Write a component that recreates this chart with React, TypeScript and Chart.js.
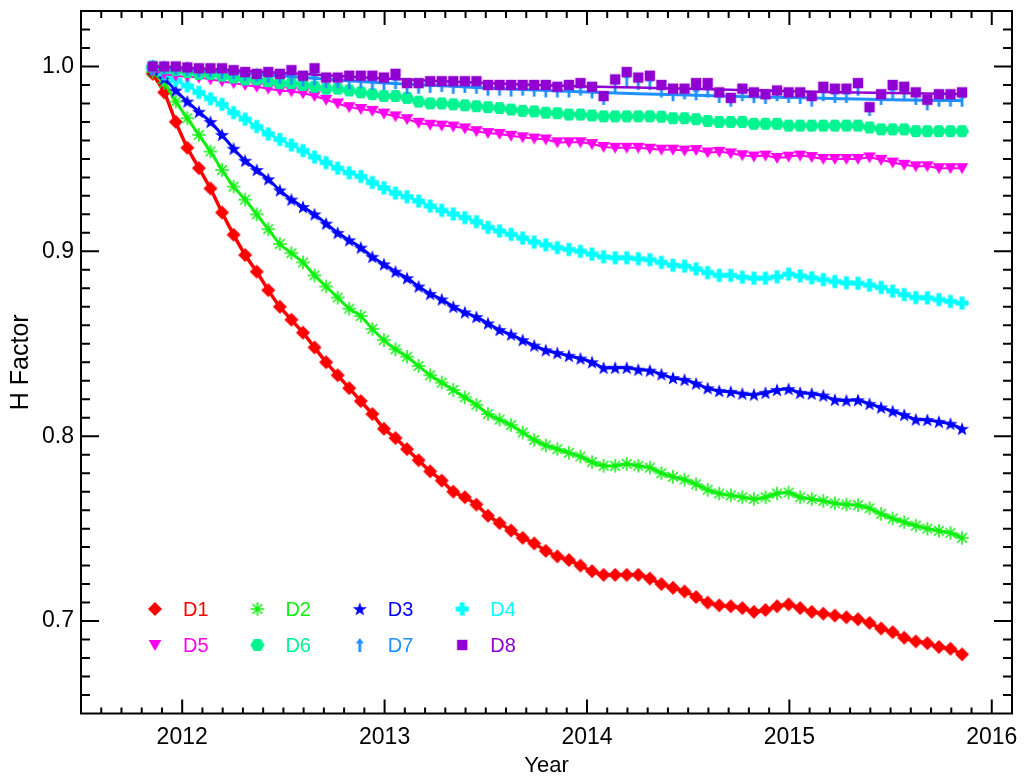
import React, { useEffect, useRef } from 'react';
import { Chart, registerables } from 'chart.js';

Chart.register(...registerables);

// ---------- data ----------
const START_YEAR = 2011.854;
const STEP_YEAR = 0.05713;

const D1 = [
  0.996, 0.986, 0.970, 0.956, 0.945, 0.934, 0.921, 0.909, 0.898, 0.889,
  0.879, 0.870, 0.863, 0.856, 0.848, 0.840, 0.833, 0.826, 0.819, 0.812,
  0.804, 0.799, 0.793, 0.787, 0.781, 0.776, 0.770, 0.767, 0.763, 0.757,
  0.753, 0.749, 0.745, 0.742, 0.738, 0.735, 0.733, 0.730, 0.727, 0.725,
  0.725, 0.725, 0.725, 0.723, 0.720, 0.718, 0.716, 0.713, 0.710, 0.7085,
  0.708, 0.707, 0.705, 0.706, 0.708, 0.709, 0.707, 0.705, 0.704, 0.703,
  0.702, 0.701, 0.699, 0.696, 0.694, 0.691, 0.689, 0.688, 0.686, 0.685,
  0.682,
];
const D2 = [
  0.997, 0.991, 0.981, 0.972, 0.963, 0.954, 0.944, 0.935, 0.928, 0.920,
  0.912, 0.904, 0.899, 0.894, 0.887, 0.881, 0.875, 0.869, 0.865, 0.858,
  0.852, 0.847, 0.843, 0.838, 0.833, 0.829, 0.825, 0.821, 0.817, 0.812,
  0.809, 0.806, 0.802, 0.798, 0.795, 0.793, 0.791, 0.789, 0.786, 0.784,
  0.784, 0.785, 0.784, 0.783, 0.780, 0.778, 0.7765, 0.774, 0.771, 0.769,
  0.768, 0.767, 0.766, 0.767, 0.769, 0.7695, 0.767, 0.766, 0.765, 0.7637,
  0.763, 0.7627, 0.761, 0.758, 0.7555, 0.7535, 0.7516, 0.750, 0.7488, 0.7477,
  0.745,
];
const D3 = [
  0.998, 0.9935, 0.987, 0.981, 0.9755, 0.970, 0.963, 0.9555, 0.949, 0.944,
  0.939, 0.933, 0.928, 0.924, 0.920, 0.915, 0.910, 0.906, 0.902, 0.897,
  0.893, 0.889, 0.8855, 0.881, 0.877, 0.874, 0.870, 0.867, 0.8645, 0.861,
  0.8575, 0.855, 0.852, 0.849, 0.8465, 0.845, 0.8435, 0.842, 0.840, 0.837,
  0.837, 0.837, 0.836, 0.8355, 0.8335, 0.8315, 0.8305, 0.8285, 0.826, 0.8245,
  0.824, 0.823, 0.8225, 0.8235, 0.825, 0.8255, 0.8235, 0.823, 0.822, 0.8197,
  0.8193, 0.8195, 0.8175, 0.8155, 0.8135, 0.8115, 0.809, 0.8088, 0.8078, 0.8067,
  0.804,
];
const D4 = [
  0.999, 0.996, 0.9925, 0.9895, 0.986, 0.9825, 0.9795, 0.975, 0.9715, 0.9675,
  0.9635, 0.9605, 0.9575, 0.9545, 0.951, 0.948, 0.945, 0.9425, 0.9405, 0.9372,
  0.9343, 0.9315, 0.9295, 0.9272, 0.9245, 0.9222, 0.9202, 0.9182, 0.916, 0.913,
  0.911, 0.9092, 0.9072, 0.905, 0.9035, 0.902, 0.901, 0.900, 0.8985, 0.897,
  0.8965, 0.8965, 0.896, 0.8955, 0.894, 0.8925, 0.892, 0.8905, 0.8885, 0.887,
  0.887, 0.886, 0.8855, 0.8855, 0.8862, 0.8877, 0.8867, 0.8857, 0.8847, 0.8837,
  0.883, 0.8827, 0.8817, 0.8805, 0.8785, 0.8766, 0.875, 0.8748, 0.8739, 0.8729,
  0.872,
];
const D5 = [
  0.998, 0.996, 0.995, 0.9945, 0.994, 0.993, 0.992, 0.991, 0.990, 0.989,
  0.988, 0.987, 0.9865, 0.9855, 0.984, 0.982, 0.980, 0.978, 0.977, 0.976,
  0.9745, 0.973, 0.9715, 0.9695, 0.9685, 0.968, 0.9675, 0.9665, 0.965, 0.964,
  0.9635, 0.9625, 0.9617, 0.961, 0.9605, 0.959, 0.959, 0.959, 0.958, 0.9565,
  0.956, 0.956, 0.956, 0.9555, 0.955, 0.955, 0.9545, 0.9548, 0.9535, 0.9538,
  0.953, 0.952, 0.9513, 0.9518, 0.9505, 0.9512, 0.9518, 0.951, 0.950, 0.950,
  0.950, 0.950, 0.9508, 0.9495, 0.948, 0.9468, 0.946, 0.946, 0.945, 0.945,
  0.945,
];
const D6 = [
  1.000, 0.999, 0.998, 0.997, 0.996, 0.996, 0.995, 0.994, 0.993, 0.993,
  0.992, 0.991, 0.991, 0.990, 0.989, 0.988, 0.988, 0.987, 0.986, 0.985,
  0.984, 0.984, 0.983, 0.981, 0.980, 0.980, 0.9795, 0.979, 0.9785, 0.978,
  0.9775, 0.9767, 0.976, 0.9757, 0.975, 0.9747, 0.974, 0.974, 0.9735, 0.973,
  0.973, 0.973, 0.973, 0.973, 0.9728, 0.972, 0.972, 0.9715, 0.9705, 0.970,
  0.970, 0.970, 0.969, 0.969, 0.969, 0.968, 0.968, 0.968, 0.968, 0.968,
  0.968, 0.968, 0.967, 0.966, 0.966, 0.966, 0.965, 0.965, 0.965, 0.965,
  0.965,
];
const D7 = [
  1.000, 0.9995, 0.999, 0.999, 0.998, 0.998, 0.997, 0.997, 0.996, 0.9955,
  0.995, 0.9945, 0.994, 0.993, 0.9935, 0.992, 0.992, 0.9915, 0.992, 0.9912,
  0.991, 0.9915, 0.989, 0.989, 0.9895, 0.990, 0.989, 0.9895, 0.989, 0.988,
  0.988, 0.9875, 0.988, 0.9875, 0.987, 0.987, 0.987, 0.988, 0.9865, 0.983,
  0.990, 0.993, 0.991, 0.991, 0.987, 0.985, 0.986, 0.9855, 0.987, 0.984,
  0.982, 0.985, 0.984, 0.9835, 0.985, 0.984, 0.9835, 0.982, 0.985, 0.984,
  0.984, 0.988, 0.977, 0.983, 0.986, 0.985, 0.983, 0.980, 0.982, 0.982,
  0.982,
];
const D8 = [
  1.000, 1.000, 1.000, 0.9995, 0.999, 0.999, 0.999, 0.998, 0.997, 0.996,
  0.997, 0.996, 0.998, 0.995, 0.999, 0.994, 0.994, 0.995, 0.995, 0.995,
  0.994, 0.996, 0.991, 0.991, 0.992, 0.992, 0.992, 0.992, 0.992, 0.990,
  0.990, 0.990, 0.990, 0.990, 0.990, 0.989, 0.990, 0.991, 0.989, 0.984,
  0.993, 0.997, 0.994, 0.995, 0.990, 0.988, 0.988, 0.991, 0.991, 0.986,
  0.983, 0.988, 0.986, 0.985, 0.987, 0.986, 0.986, 0.984, 0.989, 0.988,
  0.988, 0.991, 0.978, 0.985, 0.990, 0.989, 0.986, 0.982, 0.985, 0.985,
  0.986,
];

// smooth trend lines drawn through D7 and D8
const FIT_YEARS = [
  2011.854, 2012.0, 2012.25, 2012.5, 2012.75, 2013.0, 2013.25, 2013.5, 2013.75,
  2014.0, 2014.25, 2014.5, 2014.75, 2015.0, 2015.25, 2015.5, 2015.75, 2015.853,
];
const D7_FIT = [
  1.000, 0.9988, 0.9968, 0.9948, 0.9928, 0.991, 0.9897, 0.9884, 0.9872,
  0.9862, 0.9853, 0.9845, 0.9838, 0.9832, 0.9826, 0.982, 0.9816, 0.9815,
];
const D8_FIT = [
  1.000, 0.9994, 0.998, 0.9965, 0.995, 0.9935, 0.9922, 0.991, 0.990,
  0.9892, 0.9886, 0.988, 0.9873, 0.9866, 0.986, 0.9856, 0.9853, 0.985,
];

const X_TICKS = [2012, 2013, 2014, 2015, 2016];
const Y_TICKS = [0.7, 0.8, 0.9, 1.0];
const X_LABEL = 'Year';
const Y_LABEL = 'H Factor';

// ---------- styles ----------
const FONT = '"Liberation Sans", Arial, Helvetica, sans-serif';

type SeriesStyle = { label: string; data: number[]; color: string; marker: string; line: number };
const SERIES: SeriesStyle[] = [
  { label: 'D1', data: D1, color: '#ff0000', marker: 'diamond', line: 3.5 },
  { label: 'D2', data: D2, color: '#10f010', marker: 'asterisk', line: 3 },
  { label: 'D3', data: D3, color: '#0000ff', marker: 'star', line: 3 },
  { label: 'D4', data: D4, color: '#00ffff', marker: 'plus', line: 2.5 },
  { label: 'D5', data: D5, color: '#ff00ee', marker: 'triDown', line: 2 },
  { label: 'D6', data: D6, color: '#00f590', marker: 'hexagon', line: 2.5 },
  { label: 'D7', data: D7, color: '#1e90ff', marker: 'arrow', line: 0 },
  { label: 'D8', data: D8, color: '#9000d0', marker: 'square', line: 0 },
];

function makeMarker(kind: string, color: string): HTMLCanvasElement {
  const s = 20;
  const c = 10;
  const cv = document.createElement('canvas');
  cv.width = s;
  cv.height = s;
  const g = cv.getContext('2d') as CanvasRenderingContext2D;
  g.fillStyle = color;
  g.strokeStyle = color;
  g.beginPath();
  if (kind === 'diamond') {
    g.moveTo(c, c - 7);
    g.lineTo(c + 7, c);
    g.lineTo(c, c + 7);
    g.lineTo(c - 7, c);
    g.closePath();
    g.fill();
  } else if (kind === 'asterisk') {
    g.lineWidth = 1.6;
    for (let k = 0; k < 4; k++) {
      const a = (k * Math.PI) / 4;
      g.moveTo(c - 6.8 * Math.cos(a), c - 6.8 * Math.sin(a));
      g.lineTo(c + 6.8 * Math.cos(a), c + 6.8 * Math.sin(a));
    }
    g.stroke();
  } else if (kind === 'star') {
    for (let k = 0; k < 10; k++) {
      const r = k % 2 === 0 ? 7.4 : 3.0;
      const a = -Math.PI / 2 + (k * Math.PI) / 5;
      const px = c + r * Math.cos(a);
      const py = c + 0.6 + r * Math.sin(a);
      if (k === 0) g.moveTo(px, py);
      else g.lineTo(px, py);
    }
    g.closePath();
    g.fill();
  } else if (kind === 'plus') {
    g.fillRect(c - 6.5, c - 2.5, 13, 5);
    g.fillRect(c - 2.5, c - 6.5, 5, 13);
  } else if (kind === 'triDown') {
    g.moveTo(c - 6.3, c - 5);
    g.lineTo(c + 6.3, c - 5);
    g.lineTo(c, c + 6);
    g.closePath();
    g.fill();
  } else if (kind === 'hexagon') {
    for (let k = 0; k < 6; k++) {
      const a = (k * Math.PI) / 3;
      const px = c + 7 * Math.cos(a);
      const py = c + 7 * Math.sin(a);
      if (k === 0) g.moveTo(px, py);
      else g.lineTo(px, py);
    }
    g.closePath();
    g.fill();
  } else if (kind === 'arrow') {
    g.moveTo(c, c - 7);
    g.lineTo(c + 4, c - 1.5);
    g.lineTo(c - 4, c - 1.5);
    g.closePath();
    g.fill();
    g.fillRect(c - 1.4, c - 2, 2.8, 9);
  } else if (kind === 'square') {
    g.fillRect(c - 5.2, c - 5.2, 10.4, 10.4);
  }
  return cv;
}

export default function App() {
  const ref = useRef<HTMLCanvasElement | null>(null);

  useEffect(() => {
    const canvas = ref.current;
    if (!canvas) return;
    const markers = SERIES.map((s) => makeMarker(s.marker, s.color));
    const xs = D1.map((_, i) => START_YEAR + i * STEP_YEAR);

    const datasets: any[] = [];
    SERIES.forEach((s, i) => {
      datasets.push({
        label: s.label,
        data: s.data.map((v, k) => ({ x: xs[k], y: v })),
        borderColor: s.color,
        backgroundColor: s.color,
        borderWidth: s.line,
        showLine: s.line > 0,
        tension: 0.25,
        fill: false,
        pointStyle: markers[i],
        pointRadius: 6,
        pointHoverRadius: 6,
      });
      if (s.label === 'D7') {
        datasets.push({
          label: 'D7 trend',
          data: FIT_YEARS.map((x, k) => ({ x, y: D7_FIT[k] })),
          borderColor: s.color,
          borderWidth: 3,
          showLine: true,
          cubicInterpolationMode: 'monotone',
          pointRadius: 0,
          fill: false,
        });
      }
      if (s.label === 'D8') {
        const marks = datasets.pop();
        datasets.push({
          label: 'D8 trend',
          data: FIT_YEARS.map((x, k) => ({ x, y: D8_FIT[k] })),
          borderColor: s.color,
          borderWidth: 2.5,
          showLine: true,
          cubicInterpolationMode: 'monotone',
          pointRadius: 0,
          fill: false,
        });
        datasets.push(marks);
      }
    });
    datasets.forEach((d, i) => {
      d.order = -i;
    });

    const frameTicks = {
      id: 'frameTicks',
      afterDraw(chart: any) {
        const { ctx, chartArea: a } = chart;
        const sx = chart.scales.x;
        const sy = chart.scales.y;
        ctx.save();
        ctx.strokeStyle = '#000';
        ctx.lineWidth = 2;
        ctx.beginPath();
        for (let k = 20116; k <= 20160; k++) {
          const px = sx.getPixelForValue(k / 10);
          const major = k % 10 === 0;
          ctx.moveTo(px, a.bottom);
          ctx.lineTo(px, a.bottom - (major ? 14 : 6));
          ctx.moveTo(px, a.top);
          ctx.lineTo(px, a.top + (major ? 14 : 7));
        }
        for (let k = 66; k <= 102; k++) {
          const py = sy.getPixelForValue(k / 100);
          const major = k % 10 === 0;
          ctx.moveTo(a.left, py);
          ctx.lineTo(a.left + (major ? 18 : 9), py);
          ctx.moveTo(a.right, py);
          ctx.lineTo(a.right - (major ? 18 : 9), py);
        }
        ctx.stroke();
        ctx.strokeRect(a.left, a.top, a.right - a.left, a.bottom - a.top);
        ctx.restore();
      },
    };

    const legendBox = {
      id: 'legendBox',
      afterDraw(chart: any) {
        const { ctx, chartArea: a } = chart;
        ctx.save();
        ctx.font = `20px ${FONT}`;
        ctx.textBaseline = 'middle';
        ctx.textAlign = 'left';
        SERIES.forEach((s, i) => {
          const col = i % 4;
          const row = Math.floor(i / 4);
          const mx = a.left + 74 + col * 102.4;
          const my = a.bottom - 104.5 + row * 36;
          const img = markers[i];
          ctx.drawImage(img, mx - img.width / 2, my - img.height / 2);
          ctx.fillStyle = s.color;
          ctx.fillText(s.label, mx + 28, my + 1);
        });
        ctx.restore();
      },
    };

    const chart = new Chart(canvas, {
      type: 'scatter',
      data: { datasets },
      options: {
        animation: false,
        responsive: false,
        events: [],
        layout: { padding: { top: 11, right: 12, left: 0, bottom: 0 } },
        plugins: {
          legend: { display: false },
          tooltip: { enabled: false },
        },
        scales: {
          x: {
            type: 'linear',
            min: 2011.5,
            max: 2016.1,
            grid: { display: false, drawTicks: false },
            border: { display: false },
            afterBuildTicks: (s: any) => {
              s.ticks = X_TICKS.map((v) => ({ value: v }));
            },
            afterFit: (s: any) => {
              s.height = 69.5;
              s.paddingLeft = 0;
              s.paddingRight = 0;
            },
            ticks: {
              color: '#000',
              padding: 10,
              maxRotation: 0,
              autoSkip: false,
              font: { family: FONT, size: 23 },
              callback: (v: any) => String(v),
            },
            title: {
              display: true,
              text: X_LABEL,
              color: '#000',
              font: { family: FONT, size: 22 },
              padding: { top: 0, bottom: 4 },
            },
          },
          y: {
            type: 'linear',
            min: 0.65,
            max: 1.03,
            grid: { display: false, drawTicks: false },
            border: { display: false },
            afterBuildTicks: (s: any) => {
              s.ticks = Y_TICKS.map((v) => ({ value: v }));
            },
            afterFit: (s: any) => {
              s.width = 81;
              s.paddingTop = 0;
              s.paddingBottom = 0;
            },
            ticks: {
              color: '#000',
              padding: 7,
              autoSkip: false,
              font: { family: FONT, size: 23 },
              callback: (v: any) => Number(v).toFixed(1),
            },
            title: {
              display: true,
              text: Y_LABEL,
              color: '#000',
              font: { family: FONT, size: 25 },
              padding: { top: 6, bottom: 0 },
            },
          },
        },
      } as any,
      plugins: [frameTicks, legendBox],
    });

    return () => {
      chart.destroy();
    };
  }, []);

  return (
    <div style={{ position: 'fixed', left: 0, top: 0, width: 1024, height: 783, background: '#fff' }}>
      <canvas ref={ref} width={1024} height={783} style={{ display: 'block', width: 1024, height: 783 }} />
    </div>
  );
}
